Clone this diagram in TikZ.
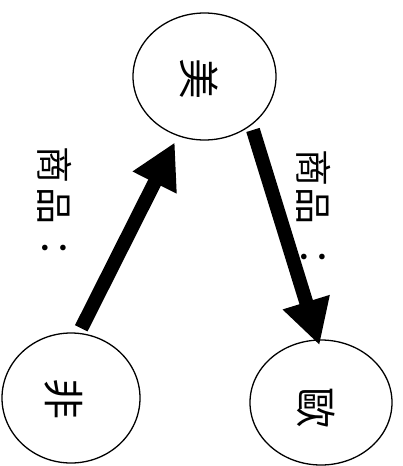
\documentclass[tikz,border=0pt]{standalone}
\usepackage{fontspec}
\newfontfamily\cjk{Noto Sans CJK TC}
\usetikzlibrary{shapes.geometric,arrows.meta}
\tikzset{
  region/.style={ellipse, draw, line width=1.3pt, inner sep=0pt},
  bigchar/.style={font=\cjk\fontsize{41pt}{41pt}\selectfont, rotate=-90, inner sep=0pt},
  lbl/.style={font=\cjk\fontsize{37pt}{37pt}\selectfont, rotate=-90, inner sep=0pt},
  flow/.style={line width=14pt, -{Triangle[width=46pt,length=45pt]}}
}
\begin{document}
\begin{tikzpicture}[x=1pt,y=-1pt]
\useasboundingbox (0,0) rectangle (402,466);
\node[region, minimum width=143pt, minimum height=127pt] (mei) at (204.5,76.5) {};
\node[region, minimum width=138pt, minimum height=130pt] (fei) at (71,398) {};
\node[region, minimum width=142pt, minimum height=125pt] (ou) at (321,402.5) {};
\node[bigchar] (meit) at (199,79) {美};
\node[bigchar] (feit) at (64,399) {非};
\node[bigchar] (out) at (316,408) {歐};
\node[lbl] (l1) at (55,206.5) {商\hspace{4pt}品\hspace{5pt}：};
\node[lbl] (l2) at (314,212.5) {商\hspace{1pt}品\hspace{14pt}：};
\draw[flow, shorten <=5pt, shorten >=7pt] (fei.83) -- (mei.246);
\draw[flow, shorten <=5pt, shorten >=-6pt] (mei.-46) -- (ou.93);
\end{tikzpicture}
\end{document}
